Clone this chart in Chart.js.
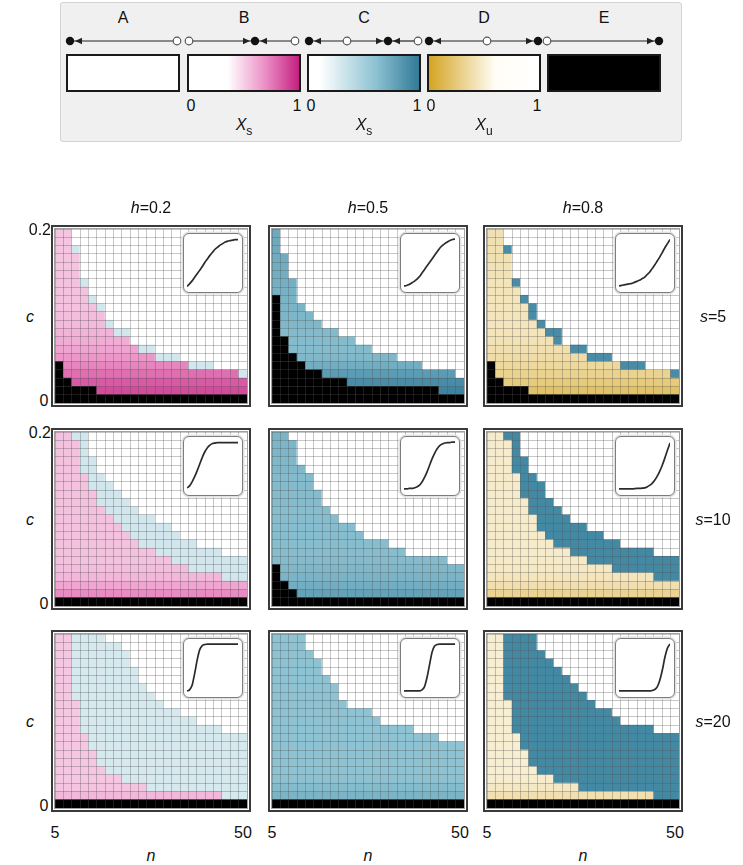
<!DOCTYPE html>
<html>
<head>
<meta charset="utf-8">
<script src="https://cdn.jsdelivr.net/npm/chart.js@4.4.1/dist/chart.umd.min.js"></script>
<style>
  body { margin: 0; width: 743px; height: 865px; background: #fff; position: relative; overflow: hidden;
         font-family: "Liberation Sans", Arial, sans-serif; color: #111; }
  .lbl { position: absolute; transform: translate(-50%, -50%); font-size: 16px; line-height: 1; white-space: nowrap; }
  .rgt { transform: translate(-100%, -50%); }
  #legend { position: absolute; left: 60px; top: 2px; width: 622px; height: 140px; box-sizing: border-box;
            background: #f0f0f0; border: 1px solid #d4d4d4; border-radius: 3px; }
  .bar { position: absolute; top: 54px; width: 114px; height: 38px; box-sizing: border-box; border: 2px solid #1a1a1a; }
  .frame { position: absolute; box-sizing: border-box; border: 2px solid #3a3a3a;
           box-shadow: inset 0 0 0 1px #fff, inset 0 0 0 2px #a0a0a0; }
  .inset { position: absolute; width: 60px; height: 60px; box-sizing: border-box; background: #fff;
           border: 1.5px solid #7c7c7c; border-radius: 6px; box-shadow: 0 0 0 1.5px #e2e2e2; }
  canvas { position: absolute; }
  sub { font-size: 12px; vertical-align: -5px; }
</style>
</head>
<body>
<div id="legend"></div>
<svg id="arrows" width="743" height="60" style="position:absolute;left:0;top:0"></svg>
<div id="root"></div>
<script>
// axes
const hValues = [0.2, 0.5, 0.8];
const sValues = [5, 10, 20];
const nValues = [5, 7, 9, 11, 13, 15, 17, 19, 21, 23, 25, 27, 29, 31, 33, 35, 37, 39, 41, 43, 45, 47, 50];
const cValues = [0, 0.01, 0.02, 0.03, 0.04, 0.05, 0.06, 0.07, 0.08, 0.09, 0.1,
                 0.11, 0.12, 0.13, 0.14, 0.15, 0.16, 0.17, 0.18, 0.19, 0.2];
const nTicks = ['5', '50'];
const cTicks = ['0', '0.2'];
const legendNames = ['A', 'B', 'C', 'D', 'E'];

// per panel: rows (from c=0) that are E (black), top of main region, top of band region,
// Xs/Xu of main region per row, and value of the band (C map)
const black_h02_s5 = [5,3,2,2,2,1,1,1,1,1,1,1,1,1,1,1,1,1,1,1,1,1,1];
const main_h02_s5  = [21,21,18,14,12,11,9,8,8,7,6,6,5,5,5,5,4,4,4,4,4,4,3];
const band_h02_s5  = [21,21,19,15,13,12,10,9,9,7,7,7,6,6,6,5,5,5,5,4,4,4,4];
const shade_h02_s5 = [0.9,0.88,0.84,0.78,0.72,0.67,0.63,0.6,0.58,0.56,0.55,0.54,0.54,0.54,0.54,0.54,0.53,0.53,0.53,0.53,0.53];
const bandX_h02_s5 = 0.3;

const black_h05_s5 = [13,8,6,5,4,4,3,3,3,2,2,2,2,2,2,2,2,2,2,2,1,1,1];
const main_h05_s5  = [21,18,15,12,11,10,9,9,8,8,7,7,6,6,6,5,5,5,4,4,4,4,3];
const band_h05_s5  = main_h05_s5;
const shade_h05_s5 = [0.95,0.95,0.9,0.82,0.72,0.66,0.64,0.64,0.65,0.66,0.67,0.68,0.69,0.7,0.71,0.72,0.72,0.73,0.74,0.74,0.74];
const bandX_h05_s5 = null;

const black_h08_s5 = [5,3,2,2,2,1,1,1,1,1,1,1,1,1,1,1,1,1,1,1,1,1,1];
const main_h08_s5  = [21,21,18,14,12,10,9,8,7,7,6,6,5,5,5,5,4,4,4,4,4,4,3];
const band_h08_s5  = [21,21,19,15,13,12,10,9,9,7,7,7,6,6,6,5,5,5,5,4,4,4,4];
const shade_h08_s5 = [0.1,0.2,0.26,0.31,0.35,0.38,0.4,0.42,0.43,0.44,0.44,0.44,0.44,0.43,0.43,0.42,0.42,0.41,0.41,0.41,0.41];
const bandX_h08_s5 = 0.9;

const black_h02_s10 = [1,1,1,1,1,1,1,1,1,1,1,1,1,1,1,1,1,1,1,1,1,1,1];
const main_h02_s10  = [21,21,20,16,14,12,11,10,9,8,7,7,6,6,5,5,4,4,4,4,3,3,3];
const band_h02_s10  = [21,21,21,21,18,16,15,14,13,12,11,11,10,10,9,8,8,7,7,7,6,6,6];
const shade_h02_s10 = [0.8,0.7,0.62,0.57,0.55,0.54,0.54,0.54,0.54,0.54,0.54,0.54,0.54,0.54,0.54,0.54,0.54,0.54,0.54,0.54,0.54];
const bandX_h02_s10 = 0.3;

const black_h05_s10 = [5,3,2,1,1,1,1,1,1,1,1,1,1,1,1,1,1,1,1,1,1,1,1];
const main_h05_s10  = [21,21,20,17,16,14,12,11,10,10,9,8,8,8,7,7,6,6,6,6,6,5,5];
const band_h05_s10  = main_h05_s10;
const shade_h05_s10 = [0.85,0.78,0.72,0.68,0.66,0.64,0.63,0.63,0.63,0.63,0.63,0.63,0.64,0.64,0.65,0.65,0.66,0.66,0.67,0.67,0.68];
const bandX_h05_s10 = null;

const black_h08_s10 = [1,1,1,1,1,1,1,1,1,1,1,1,1,1,1,1,1,1,1,1,1,1,1];
const main_h08_s10  = [21,21,20,16,13,11,9,8,7,7,6,6,5,5,5,4,4,4,4,4,3,3,3];
const band_h08_s10  = [21,21,21,21,18,16,15,13,12,11,10,10,9,9,8,8,7,7,7,7,6,6,6];
const shade_h08_s10 = [0.25,0.32,0.4,0.44,0.46,0.47,0.48,0.48,0.48,0.48,0.48,0.48,0.48,0.48,0.48,0.48,0.48,0.48,0.48,0.48,0.48];
const bandX_h08_s10 = 0.92;

const black_h02_s20 = [1,1,1,1,1,1,1,1,1,1,1,1,1,1,1,1,1,1,1,1,1,1,1];
const main_h02_s20  = [21,21,13,9,7,5,4,4,3,3,3,2,2,2,2,2,2,2,2,2,1,1,1];
const band_h02_s20  = [21,21,21,21,21,21,20,20,19,17,15,14,13,12,12,11,11,10,10,10,9,9,9];
const shade_h02_s20 = [0.62,0.57,0.53,0.52,0.52,0.52,0.52,0.52,0.52,0.52,0.52,0.52,0.52,0.52,0.52,0.52,0.52,0.52,0.52,0.52,0.52];
const bandX_h02_s20 = 0.28;

const black_h05_s20 = [1,1,1,1,1,1,1,1,1,1,1,1,1,1,1,1,1,1,1,1,1,1,1];
const main_h05_s20  = [21,21,21,21,19,18,16,15,13,12,12,12,11,10,10,10,10,9,9,9,8,8,8];
const band_h05_s20  = main_h05_s20;
const shade_h05_s20 = [0.75,0.68,0.64,0.61,0.6,0.6,0.6,0.6,0.6,0.6,0.6,0.6,0.6,0.6,0.6,0.6,0.6,0.6,0.6,0.6,0.6];
const bandX_h05_s20 = null;

const black_h08_s20 = [1,1,1,1,1,1,1,1,1,1,1,1,1,1,1,1,1,1,1,1,1,1,1];
const main_h08_s20  = [21,21,13,9,7,5,4,4,3,3,3,2,2,2,2,2,2,2,2,2,1,1,1];
const band_h08_s20  = [21,21,21,21,21,21,19,18,17,16,15,14,13,12,12,11,10,10,10,10,9,9,9];
const shade_h08_s20 = [0.3,0.4,0.46,0.49,0.5,0.5,0.5,0.5,0.5,0.5,0.5,0.5,0.5,0.5,0.5,0.5,0.5,0.5,0.5,0.5,0.5];
const bandX_h08_s20 = 0.92;

// inset curves, sampled at curveX
const curveX = [0,0.05,0.1,0.15,0.2,0.25,0.3,0.35,0.4,0.45,0.5,0.55,0.6,0.65,0.7,0.75,0.8,0.85,0.9,0.95,1];
const curve_h02_s5  = [0.03,0.08,0.14,0.21,0.28,0.35,0.42,0.5,0.57,0.64,0.7,0.76,0.8,0.84,0.87,0.9,0.92,0.93,0.94,0.95,0.95];
const curve_h05_s5  = [0.04,0.05,0.07,0.1,0.13,0.17,0.22,0.29,0.36,0.43,0.5,0.57,0.64,0.71,0.78,0.83,0.87,0.9,0.93,0.95,0.96];
const curve_h08_s5  = [0.04,0.05,0.06,0.07,0.08,0.09,0.11,0.13,0.15,0.18,0.21,0.26,0.31,0.38,0.45,0.53,0.61,0.7,0.79,0.87,0.95];
const curve_h02_s10 = [0.06,0.1,0.18,0.28,0.4,0.53,0.66,0.77,0.85,0.9,0.93,0.94,0.95,0.95,0.95,0.95,0.95,0.95,0.95,0.95,0.95];
const curve_h05_s10 = [0.04,0.04,0.05,0.05,0.06,0.08,0.11,0.17,0.26,0.37,0.5,0.63,0.74,0.83,0.89,0.92,0.94,0.95,0.95,0.96,0.96];
const curve_h08_s10 = [0.04,0.04,0.04,0.04,0.04,0.04,0.045,0.05,0.05,0.055,0.06,0.08,0.11,0.15,0.21,0.29,0.39,0.51,0.65,0.8,0.94];
const curve_h02_s20 = [0.04,0.06,0.15,0.38,0.65,0.85,0.93,0.95,0.96,0.96,0.96,0.96,0.96,0.96,0.96,0.96,0.96,0.96,0.96,0.96,0.96];
const curve_h05_s20 = [0.04,0.04,0.04,0.04,0.04,0.04,0.04,0.06,0.12,0.3,0.55,0.8,0.92,0.95,0.96,0.96,0.96,0.96,0.96,0.96,0.96];
const curve_h08_s20 = [0.04,0.04,0.04,0.04,0.04,0.04,0.04,0.04,0.04,0.04,0.04,0.04,0.04,0.05,0.07,0.12,0.25,0.45,0.7,0.88,0.96];

const panels = [
  { h: 0.2, s: 5,  black: black_h02_s5,  main: main_h02_s5,  band: band_h02_s5,  shade: shade_h02_s5,  bandX: bandX_h02_s5,  curve: curve_h02_s5 },
  { h: 0.5, s: 5,  black: black_h05_s5,  main: main_h05_s5,  band: band_h05_s5,  shade: shade_h05_s5,  bandX: bandX_h05_s5,  curve: curve_h05_s5 },
  { h: 0.8, s: 5,  black: black_h08_s5,  main: main_h08_s5,  band: band_h08_s5,  shade: shade_h08_s5,  bandX: bandX_h08_s5,  curve: curve_h08_s5 },
  { h: 0.2, s: 10, black: black_h02_s10, main: main_h02_s10, band: band_h02_s10, shade: shade_h02_s10, bandX: bandX_h02_s10, curve: curve_h02_s10 },
  { h: 0.5, s: 10, black: black_h05_s10, main: main_h05_s10, band: band_h05_s10, shade: shade_h05_s10, bandX: bandX_h05_s10, curve: curve_h05_s10 },
  { h: 0.8, s: 10, black: black_h08_s10, main: main_h08_s10, band: band_h08_s10, shade: shade_h08_s10, bandX: bandX_h08_s10, curve: curve_h08_s10 },
  { h: 0.2, s: 20, black: black_h02_s20, main: main_h02_s20, band: band_h02_s20, shade: shade_h02_s20, bandX: bandX_h02_s20, curve: curve_h02_s20 },
  { h: 0.5, s: 20, black: black_h05_s20, main: main_h05_s20, band: band_h05_s20, shade: shade_h05_s20, bandX: bandX_h05_s20, curve: curve_h05_s20 },
  { h: 0.8, s: 20, black: black_h08_s20, main: main_h08_s20, band: band_h08_s20, shade: shade_h08_s20, bandX: bandX_h08_s20, curve: curve_h08_s20 },
];

// colour maps (B, C, D of the legend)
const mapB = [[0, [255,255,255]], [0.35, [255,255,255]], [0.7, [234,140,196]], [1, [196,32,128]]];
const mapC = [[0, [255,255,255]], [0.1, [255,255,255]], [0.6, [142,195,211]], [1, [50,122,152]]];
const mapD = [[0, [212,164,34]], [0.6, [255,253,245]], [1, [255,255,255]]];
const mainMap = { 0.2: mapB, 0.5: mapC, 0.8: mapD };

function cmap(stops, v) {
  for (let k = 1; k < stops.length; k++) {
    if (v <= stops[k][0]) {
      const [a, ca] = stops[k - 1], [b, cb] = stops[k];
      const t = b === a ? 0 : (v - a) / (b - a);
      const c = ca.map((x, i) => Math.round(x + (cb[i] - x) * t));
      return `rgb(${c[0]},${c[1]},${c[2]})`;
    }
  }
  const c = stops[stops.length - 1][1];
  return `rgb(${c[0]},${c[1]},${c[2]})`;
}
function cssGradient(stops) {
  return 'linear-gradient(to right, ' + stops.map(([v, c]) => `rgb(${c[0]},${c[1]},${c[2]}) ${v * 100}%`).join(', ') + ')';
}

function cellColor(p, i, j) {
  if (j < p.black[i]) return '#000';
  if (j < p.main[i]) return cmap(mainMap[p.h], p.shade[j]);
  if (j < p.band[i]) return cmap(mapC, p.bandX);
  return '#fff';
}

// layout
const cellLeft = [55, 272, 487];
const cellTop = [229, 432, 634];
const cellW = 192, cellH = 174;
const gridColor = 'rgba(80,80,80,0.32)';
const root = document.getElementById('root');

function addLabel(html, x, y, cls) {
  const d = document.createElement('div');
  d.className = 'lbl' + (cls ? ' ' + cls : '');
  d.innerHTML = html;
  d.style.left = x + 'px';
  d.style.top = y + 'px';
  root.appendChild(d);
  return d;
}

const half = 0.005;
panels.forEach((p, idx) => {
  const col = idx % 3, row = Math.floor(idx / 3);
  const L = cellLeft[col], T = cellTop[row];

  const frame = document.createElement('div');
  frame.className = 'frame';
  Object.assign(frame.style, { left: (L - 4) + 'px', top: (T - 4) + 'px', width: (cellW + 8) + 'px', height: (cellH + 8) + 'px' });
  root.appendChild(frame);

  const cv = document.createElement('canvas');
  cv.width = cellW; cv.height = cellH;
  Object.assign(cv.style, { left: L + 'px', top: T + 'px', width: cellW + 'px', height: cellH + 'px' });
  root.appendChild(cv);

  new Chart(cv, {
    type: 'bar',
    data: {
      labels: nValues,
      datasets: cValues.map((c, j) => ({
        data: nValues.map(() => [c - half, c + half]),
        backgroundColor: nValues.map((n, i) => cellColor(p, i, j)),
        borderWidth: 0,
        barPercentage: 1,
        categoryPercentage: 1,
        grouped: false
      }))
    },
    options: {
      responsive: false, animation: false, events: [],
      plugins: { legend: { display: false }, tooltip: { enabled: false } },
      layout: { padding: 0 },
      scales: {
        x: { stacked: true, offset: true,
             grid: { offset: true, drawTicks: false, color: gridColor, z: 1 },
             border: { display: false }, ticks: { display: false } },
        y: { min: -half, max: 0.2 + half,
             grid: { drawTicks: false, color: gridColor, z: 1 },
             border: { display: false }, ticks: { display: false },
             afterBuildTicks: axis => {
               axis.ticks = cValues.map(c => ({ value: c - half })).concat([{ value: 0.2 + half }]);
             } }
      }
    }
  });

  // inset response curve
  const inset = document.createElement('div');
  inset.className = 'inset';
  Object.assign(inset.style, { left: (L + cellW - 64) + 'px', top: (T + 4) + 'px' });
  root.appendChild(inset);
  const ic = document.createElement('canvas');
  ic.width = 57; ic.height = 57;
  Object.assign(ic.style, { left: '0px', top: '0px', width: '57px', height: '57px' });
  inset.appendChild(ic);
  new Chart(ic, {
    type: 'line',
    data: { datasets: [{ data: curveX.map((x, k) => ({ x, y: p.curve[k] })), borderColor: '#2b2b2b',
                         borderWidth: 1.7, pointRadius: 0, cubicInterpolationMode: 'monotone', fill: false }] },
    options: {
      responsive: false, animation: false, events: [],
      plugins: { legend: { display: false }, tooltip: { enabled: false } },
      layout: { padding: 3 },
      scales: { x: { type: 'linear', min: 0, max: 1, display: false }, y: { min: 0, max: 1, display: false } }
    }
  });
});

// panel labels
hValues.forEach((h, col) => {
  addLabel('<i>h</i>=' + h, cellLeft[col] + 96, 208);
  addLabel(nTicks[0], cellLeft[col], 833);
  addLabel(nTicks[1], cellLeft[col] + 188, 833);
  addLabel('<i>n</i>', cellLeft[col] + 96, 856);
});
sValues.forEach((s, row) => {
  addLabel('<i>s</i>=' + s, 713, cellTop[row] + 88);
  addLabel('<i>c</i>', 30, cellTop[row] + 88);
  addLabel(cTicks[0], 44, cellTop[row] + 172);
  if (row < 2) addLabel(cTicks[1], 51, cellTop[row] + 1, 'rgt');
});

// legend
const barLeft = [66, 187, 307, 427, 547];
const barFill = ['#fff', cssGradient(mapB), cssGradient(mapC), cssGradient(mapD), '#000'];
legendNames.forEach((name, k) => {
  const b = document.createElement('div');
  b.className = 'bar';
  b.style.left = barLeft[k] + 'px';
  b.style.background = barFill[k];
  root.appendChild(b);
  addLabel(name, barLeft[k] + 57, 18);
});
[1, 2, 3].forEach(k => {
  addLabel('0', barLeft[k] + 4, 106);
  addLabel('1', barLeft[k] + 110, 106);
  addLabel('<i>X</i><sub>' + (k === 3 ? 'u' : 's') + '</sub>', barLeft[k] + 57, 127);
});

// equilibrium arrows above the legend bars
const svg = document.getElementById('arrows');
const ay = 41;
let s = '';
const lines = [[70,177],[189,255],[255,295],[309,347],[347,388],[388,418],[429,487],[487,538],[547,659]];
lines.forEach(([a, b]) => { s += `<line x1="${a}" y1="${ay}" x2="${b}" y2="${ay}" stroke="#222" stroke-width="1.2"/>`; });
const heads = [[75,-1],[250,1],[260,-1],[314,-1],[383,1],[393,-1],[434,-1],[533,1],[654,1]];
heads.forEach(([x, d]) => { s += `<polygon points="${x},${ay} ${x - 7 * d},${ay - 3.2} ${x - 7 * d},${ay + 3.2}" fill="#222"/>`; });
[70,255,309,388,429,538,659].forEach(x => { s += `<circle cx="${x}" cy="${ay}" r="4.2" fill="#111"/>`; });
[177,189,295,347,418,487,547].forEach(x => { s += `<circle cx="${x}" cy="${ay}" r="3.8" fill="#fff" stroke="#555" stroke-width="1.2"/>`; });
svg.innerHTML = s;
</script>
</body>
</html>
